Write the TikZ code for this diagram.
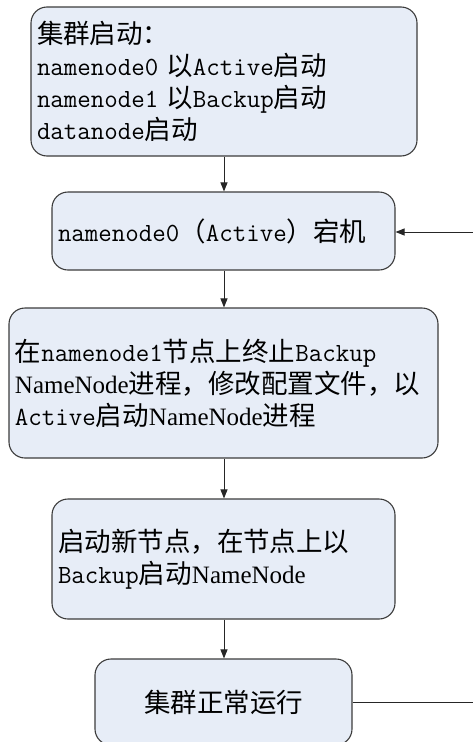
\documentclass[tikz,border=0pt]{standalone}
\usepackage{fontspec}
\setmainfont{Liberation Serif}
\newfontfamily\zhfont{Noto Sans CJK SC}
\usetikzlibrary{arrows.meta}
\newcommand\CJKt[1]{{\zhfont\fontsize{26.5}{32}\selectfont #1}}
\newcommand\MONOt[1]{{\ttfamily\fontsize{26.2}{32}\selectfont #1}}
\newcommand\SERt[1]{{\fontsize{25}{32}\selectfont #1}}
\definecolor{boxfill}{RGB}{231,237,247}
\definecolor{boxline}{RGB}{60,60,60}
\tikzset{
  flowbox/.style={draw=boxline, fill=boxfill, line width=1.1pt, rounded corners=16pt,
    inner xsep=6pt, inner ysep=0pt, align=left, font=\fontsize{24}{32}\selectfont},
  flowarrow/.style={draw=black!85, line width=1pt, -{Triangle[length=9pt,width=7pt]}},
  flowline/.style={draw=black!85, line width=1pt}
}
\begin{document}
\begin{tikzpicture}[x=1pt,y=-1pt]
\useasboundingbox (0,0) rectangle (473,742);
\clip (0,0) rectangle (473,742);
\node[flowbox, minimum width=386pt, minimum height=149pt, text width=374pt] (b1) at (224,81.5)
  {\CJKt{集群启动：}\\
   \MONOt{namenode0 }\CJKt{以}\MONOt{Active}\CJKt{启动}\\
   \MONOt{namenode1 }\CJKt{以}\MONOt{Backup}\CJKt{启动}\\
   \MONOt{datanode}\CJKt{启动}};
\node[flowbox, minimum width=343pt, minimum height=78pt, text width=331pt] (b2) at (223.5,231)
  {\MONOt{namenode0}\CJKt{（}\MONOt{Active}\CJKt{）宕机}};
\node[flowbox, minimum width=429pt, minimum height=150pt, text width=417pt] (b3) at (223.5,383)
  {\CJKt{在}\MONOt{namenode1}\CJKt{节点上终止}\MONOt{Backup}\\
   \SERt{NameNode}\CJKt{进程，修改配置文件，以}\\
   \MONOt{Active}\CJKt{启动}\SERt{NameNode}\CJKt{进程}};
\node[flowbox, minimum width=343pt, minimum height=120pt, text width=331pt] (b4) at (223.5,559)
  {\CJKt{启动新节点，在节点上以}\\
   \MONOt{Backup}\CJKt{启动}\SERt{NameNode}};
\node[flowbox, minimum width=257pt, minimum height=86pt, align=center] (b5) at (223.5,702)
  {\CJKt{集群正常运行}};
\coordinate (r2) at (473,232);
\coordinate (r5) at (473,702);
\draw[flowarrow] (b1.south -| 224,0) -- (b2.north -| 224,0);
\draw[flowarrow] (b2.south -| 224,0) -- (b3.north -| 224,0);
\draw[flowarrow] (b3.south -| 224,0) -- (b4.north -| 224,0);
\draw[flowarrow] (b4.south -| 224,0) -- (b5.north -| 224,0);
\draw[flowarrow] (r2) -- (r2 -| b2.east);
\draw[flowline] (b5.east |- r5) -- (r5);
\end{tikzpicture}
\end{document}
